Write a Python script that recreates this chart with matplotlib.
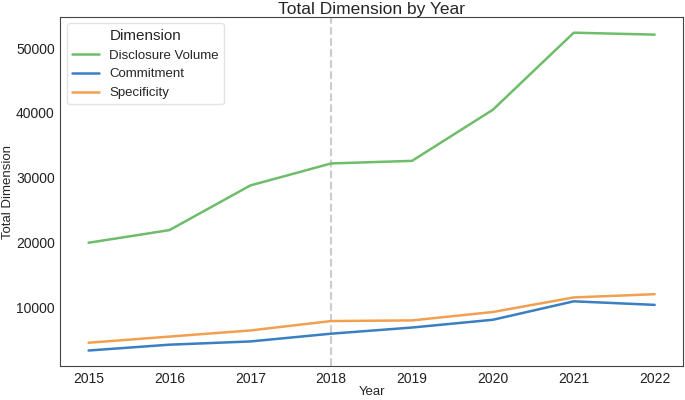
import matplotlib
matplotlib.use("Agg")
import matplotlib.pyplot as plt
import seaborn as sns

years = [2015, 2016, 2017, 2018, 2019, 2020, 2021, 2022]
disclosure_volume = [19950, 21900, 28800, 32200, 32600, 40500, 52400, 52100]
commitment = [3300, 4200, 4700, 5900, 6850, 8050, 10900, 10350]
specificity = [4500, 5450, 6400, 7850, 7950, 9250, 11500, 12000]

series = [
    ("Disclosure Volume", disclosure_volume, "#6dbd6a"),
    ("Commitment", commitment, "#3a7fc1"),
    ("Specificity", specificity, "#f0a050"),
]

sns.set_style("white")
plt.rcParams["font.family"] = ["Liberation Sans", "DejaVu Sans"]
plt.rcParams["axes.edgecolor"] = "#444444"

fig = plt.figure(figsize=(6.85, 4.0), dpi=100)
ax = fig.add_axes([0.088, 0.084, 0.909, 0.874])

for name, vals, col in series:
    ax.plot(years, vals, color=col, lw=1.8, label=name)

ax.axvline(2018, color="#cccccc", ls="--", lw=1.5, zorder=0)

ax.set_xticks(years)
ax.tick_params(labelsize=10, colors="#222222", length=0)
ax.tick_params(axis="x", pad=4)
ax.tick_params(axis="y", pad=4)
ax.set_title("Total Dimension by Year", fontsize=12.5, pad=2)
ax.set_xlabel("Year", fontsize=9.5, labelpad=0)
ax.set_ylabel("Total Dimension", fontsize=9.5, labelpad=1)

leg = ax.legend(title="Dimension", loc="upper left", fontsize=9.5,
                title_fontsize=11, frameon=True)
leg.get_frame().set_edgecolor("#dddddd")

fig.savefig("out.png", dpi=100)
plt.close(fig)
